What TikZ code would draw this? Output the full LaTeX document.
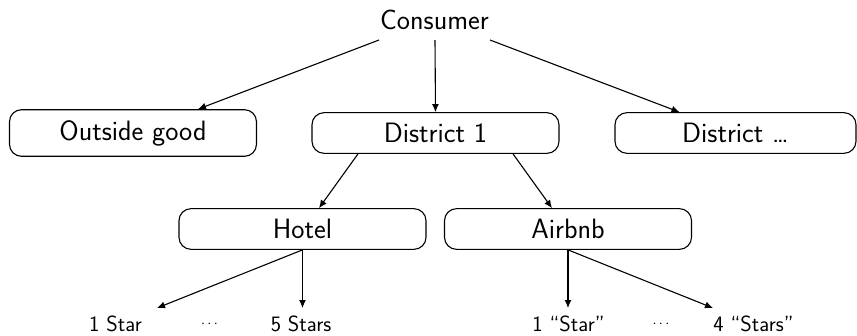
\documentclass[tikz,border=0pt]{standalone}
\usetikzlibrary{arrows.meta,calc}
\begin{document}
\begin{tikzpicture}[x=1pt,y=-1pt,
  box/.style={draw, rounded corners=12pt, line width=1.1pt, minimum width=247pt,
    inner xsep=0pt, inner ysep=10.5pt, font=\sffamily\fontsize{28}{34}\selectfont},
  toplab/.style={anchor=base, inner sep=0pt, font=\sffamily\fontsize{28}{34}\selectfont},
  lab/.style={anchor=base, inner sep=0pt, font=\sffamily\fontsize{22}{26}\selectfont},
  dotlab/.style={anchor=base, inner sep=0pt, font=\fontsize{15}{18}\selectfont},
  arr/.style={-{Latex[length=8pt,width=7pt]}, line width=1.1pt}]
\useasboundingbox (0,0) rectangle (857,335);
% nodes
\node[toplab] (consumer) at (434.5,29) {Consumer};
\node[box] (outside) at (133,133) {Outside good};
\node[box] (d1) at (435.5,133) {District 1};
\node[box, minimum width=241pt] (dd) at (735.5,133) {District \ldots};
\node[box] (hotel) at (302.5,229) {Hotel};
\node[box] (airbnb) at (568,229) {Airbnb};
% bottom labels
\node[lab] (h1) at (115.5,331.5) {1 Star};
\node[dotlab] (hdots) at (209.5,327) {$\cdots$};
\node[lab] (h5) at (301,331.5) {5 Stars};
\node[lab] (a1) at (568.5,331.5) {1 “Star”};
\node[dotlab] (adots) at (661,327) {$\cdots$};
\node[lab] (a4) at (753.5,331.5) {4 “Stars”};
% arrow end points above the labels
\coordinate (th1) at (157,308);
\coordinate (th5) at (302.5,308);
\coordinate (ta1) at (568,308);
\coordinate (ta4) at (713,308);
% connectors
\draw[arr] ($(consumer.base)+(-55.5,11)$) -- ($(outside.north)+(65,0)$);
\draw[arr] ($(consumer.base)+(0.5,11)$) -- (d1.north);
\draw[arr] ($(consumer.base)+(55.5,11)$) -- ($(dd.north)+(-56,0)$);
\draw[arr] ($(d1.south)+(-77.5,0)$) -- ($(hotel.north)+(16.5,0)$);
\draw[arr] ($(d1.south)+(77.5,0)$) -- ($(airbnb.north)+(-16,0)$);
\draw[arr] (hotel.south) -- (th1);
\draw[arr] (hotel.south) -- (th5);
\draw[arr] (airbnb.south) -- (ta1);
\draw[arr] (airbnb.south) -- (ta4);
\end{tikzpicture}
\end{document}
